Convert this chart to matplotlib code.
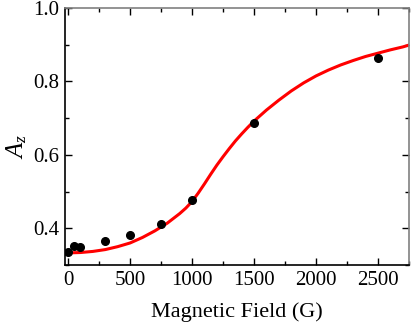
import matplotlib
matplotlib.use("Agg")
import matplotlib.pyplot as plt
from matplotlib.ticker import MultipleLocator, FormatStrFormatter

plt.rcParams['font.family'] = ['Liberation Serif', 'DejaVu Serif']
plt.rcParams['mathtext.fontset'] = 'custom'
plt.rcParams['mathtext.rm'] = 'Liberation Serif'
plt.rcParams['mathtext.it'] = 'Liberation Serif:italic'

# measured points
field = [0, 50, 100, 300, 500, 750, 1000, 1500, 2500]
asym = [0.336, 0.351, 0.350, 0.366, 0.382, 0.412, 0.478, 0.687, 0.865]

# fitted curve
fit_field = [0, 100, 200, 300, 400, 500, 600, 700, 800, 900, 950, 1000,
             1050, 1100, 1150, 1200, 1250, 1300, 1350, 1400, 1450, 1500,
             1600, 1700, 1800, 1900, 2000, 2100, 2200, 2300, 2400, 2500,
             2600, 2700, 2750]
fit_asym = [0.333, 0.334, 0.337, 0.342, 0.350, 0.360, 0.375, 0.393, 0.414,
            0.440, 0.455, 0.473, 0.496, 0.521, 0.547, 0.572, 0.595, 0.617,
            0.638, 0.657, 0.675, 0.692, 0.722, 0.749, 0.774, 0.796, 0.815,
            0.831, 0.845, 0.857, 0.868, 0.877, 0.886, 0.894, 0.899]

fig = plt.figure(figsize=(4.11, 3.22), dpi=100)
ax = fig.add_axes([65 / 411, 1 - 265 / 322, 344 / 411, 257 / 322])

ax.plot(fit_field, fit_asym, color='red', lw=2.2, zorder=2)
ax.plot(field, asym, 'o', color='black', ms=5.5, zorder=3)

ax.set_xlim(-25, 2750)
ax.set_ylim(0.30, 1.0)
ax.xaxis.set_major_locator(MultipleLocator(500))
ax.xaxis.set_minor_locator(MultipleLocator(250))
ax.yaxis.set_major_locator(MultipleLocator(0.2))
ax.yaxis.set_minor_locator(MultipleLocator(0.1))
ax.yaxis.set_major_formatter(FormatStrFormatter('%.1f'))

ax.tick_params(which='both', direction='in', top=True, right=True,
               labelsize=15, width=1, pad=4)
ax.tick_params(which='major', length=5)
ax.tick_params(which='minor', length=3)

for side in ['top', 'right']:
    ax.spines[side].set_color('#808080')
for side in ['left', 'bottom']:
    ax.spines[side].set_color('black')
for s in ax.spines.values():
    s.set_linewidth(1.2)

ax.set_xlabel('Magnetic Field (G)', fontsize=16, labelpad=9)
ax.set_ylabel(r'$A_z$', fontsize=18)
ax.yaxis.set_label_coords(-0.105, 0.46)

fig.savefig('out.png', dpi=100)
